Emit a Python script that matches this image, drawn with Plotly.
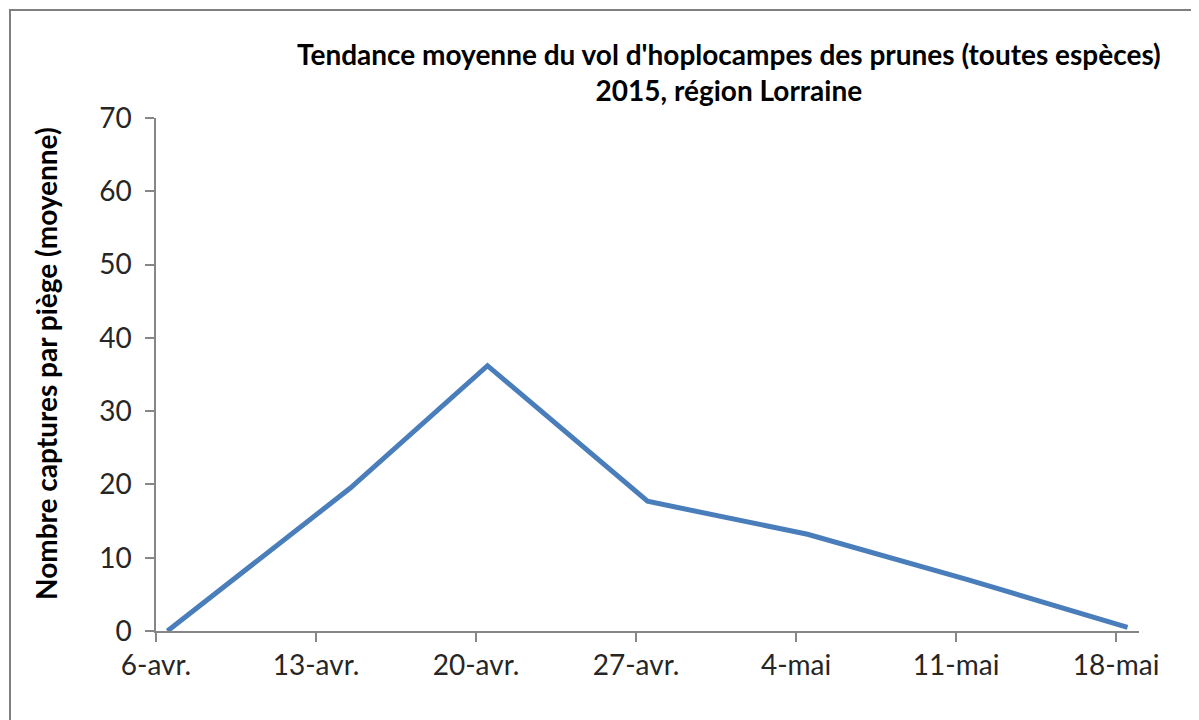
import plotly.graph_objects as go
import pandas as pd

# Data
dates = ["2015-04-06", "2015-04-14", "2015-04-20", "2015-04-27", "2015-05-04", "2015-05-11", "2015-05-18"]
captures = [0, 19.5, 36.2, 17.7, 13.2, 7.0, 0.5]

tick_dates = ["2015-04-06", "2015-04-13", "2015-04-20", "2015-04-27", "2015-05-04", "2015-05-11", "2015-05-18"]
tick_labels = ["6-avr.", "13-avr.", "20-avr.", "27-avr.", "4-mai", "11-mai", "18-mai"]

title_text = "Tendance moyenne du vol d'hoplocampes des prunes (toutes espèces)<br>2015, région Lorraine"
y_title = "Nombre captures par piège (moyenne)"

# Excel date axis: points sit in the middle of each day slot
x_vals = pd.to_datetime(dates) + pd.Timedelta(hours=12)

OFF = 8  # page body margin
W, H = 1199 - OFF, 720 - OFF
L, T = 156 - OFF, 118 - OFF
right_edge, bottom_edge = 1139 - OFF, 631 - OFF
R, B = W - right_edge, H - bottom_edge
pw, ph = W - L - R, H - T - B

def px(x):
    return (x - OFF - L) / pw

def py(y):
    return (bottom_edge - (y - OFF)) / ph

fig = go.Figure()
fig.add_trace(go.Scatter(
    x=x_vals, y=captures, mode="lines",
    line=dict(color="#4A7EBB", width=5),
    showlegend=False, hoverinfo="skip",
))

axis_gray = "#868686"
font_fam = "Lato, 'Open Sans', sans-serif"

fig.update_layout(
    width=W, height=H,
    margin=dict(l=L, r=R, t=T, b=B),
    paper_bgcolor="white", plot_bgcolor="white",
    font=dict(family=font_fam, color="#262626"),
    xaxis=dict(
        type="date",
        range=["2015-04-06", "2015-05-19"],
        tickvals=tick_dates, ticktext=tick_labels,
        ticks="outside", ticklen=9, tickwidth=1.5, tickcolor=axis_gray,
        showline=True, linecolor=axis_gray, linewidth=1.5,
        showgrid=False, zeroline=False,
        tickfont=dict(size=28, color="#262626", family=font_fam),
        ticklabelstandoff=0,
    ),
    yaxis=dict(
        range=[0, 70], dtick=10, tick0=0,
        ticks="outside", ticklen=9, tickwidth=1.5, tickcolor=axis_gray,
        showline=True, linecolor=axis_gray, linewidth=1.5,
        showgrid=False, zeroline=False,
        tickfont=dict(size=28, color="#262626", family=font_fam),
        ticklabelstandoff=8,
    ),
)

# Title (two lines, bold)
fig.add_annotation(
    text="<b>" + title_text.replace("<br>", "</b><br><b>") + "</b>",
    x=px(729), y=py(72), xref="paper", yref="paper",
    xanchor="center", yanchor="middle", showarrow=False,
    font=dict(size=28, color="black", family=font_fam),
    align="center",
)

# Y axis title
fig.add_annotation(
    text="<b>" + y_title + "</b>",
    x=px(46), y=py(364), xref="paper", yref="paper",
    xanchor="center", yanchor="middle", showarrow=False, textangle=-90,
    font=dict(size=28, color="black", family=font_fam),
)

# Chart border
fig.add_shape(
    type="rect", xref="paper", yref="paper",
    x0=px(10), x1=px(1197), y0=py(730), y1=py(10),
    line=dict(color="#7f7f7f", width=2), fillcolor="rgba(0,0,0,0)",
    layer="below",
)

fig.write_html("out.html")
